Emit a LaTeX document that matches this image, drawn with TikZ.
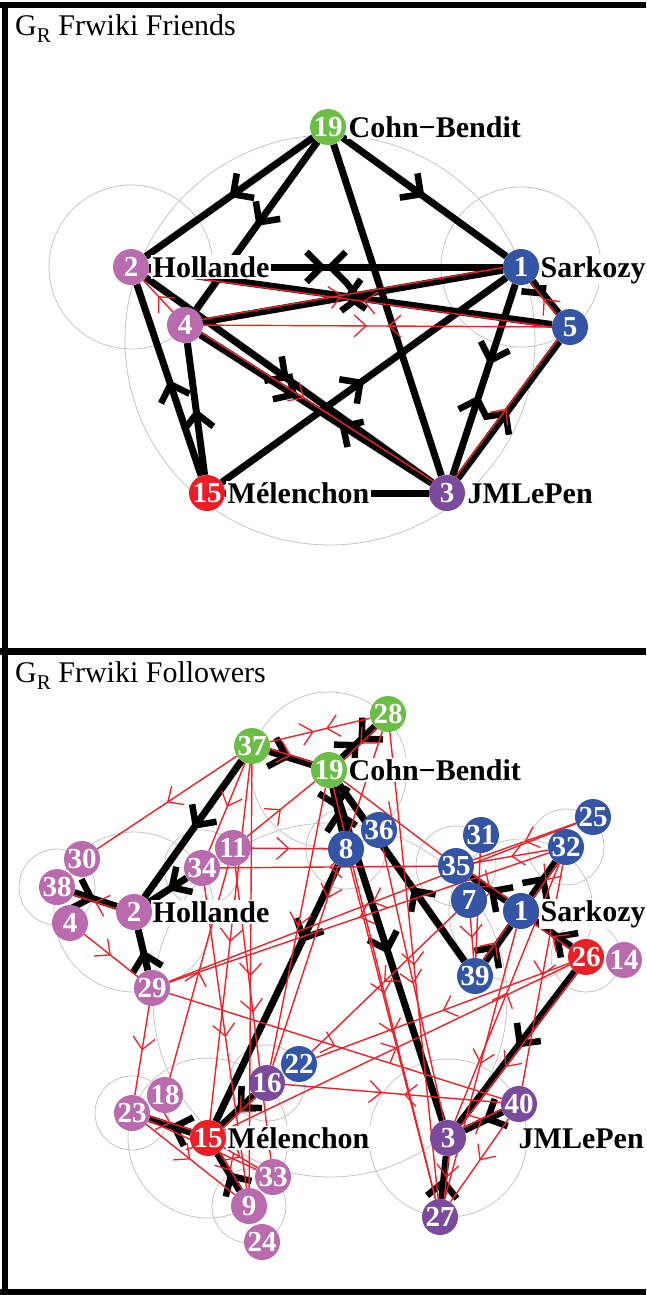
\documentclass[tikz,border=0pt]{standalone}
\usepackage{fontspec}
\setmainfont{Liberation Serif}
\usetikzlibrary{arrows.meta,decorations.markings,calc}
\definecolor{pinkc}{HTML}{B96BAE}
\definecolor{bluec}{HTML}{3455A5}
\definecolor{greenc}{HTML}{6BBE45}
\definecolor{rednode}{HTML}{EC1F26}
\definecolor{purc}{HTML}{7B4A9D}
\definecolor{rededge}{HTML}{EE2129}
\definecolor{loopgray}{HTML}{C4C4C4}
\pgfdeclarelayer{loops}
\pgfdeclarelayer{edges}
\pgfsetlayers{loops,edges,main}
\tikzset{
  BA/.tip={Straight Barb[length=15pt,width=30pt,line width=6.5pt]},
  RA/.tip={Straight Barb[length=12pt,width=22pt,line width=1.3pt]},
  vx/.style={circle,minimum size=36pt,inner sep=0pt,text=white,font=\bfseries\fontsize{29}{29}\selectfont},
  vp/.style={vx,fill=pinkc},
  vb/.style={vx,fill=bluec},
  vg/.style={vx,fill=greenc},
  vr/.style={vx,fill=rednode},
  vu/.style={vx,fill=purc},
  lab/.style={anchor=base west,fill=white,inner sep=1.5pt,font=\bfseries\fontsize{30}{30}\selectfont},
  ttl/.style={anchor=base west,inner sep=0pt,font=\fontsize{30}{30}\selectfont},
  blk/.style={line width=7pt,draw=black},
  rde/.style={line width=1.4pt,draw=rededge},
  loopc/.style={draw=loopgray,line width=0.8pt},
  panelrule/.style={line width=6pt,draw=black},
  ab/.style={decoration={markings,mark=at position #1 with {\arrow{BA}}},postaction={decorate}},
  ab/.default=0.5,
  abx/.style={decoration={markings,mark=at position 0.5 with {\arrow{BA}},mark=at position 0.5 with {\arrowreversed{BA}}},postaction={decorate}},
  abs/.style 2 args={decoration={markings,mark=at position #1 with {\arrow{BA}},mark=at position #2 with {\arrowreversed{BA}}},postaction={decorate}},
  ra/.style={decoration={markings,mark=at position #1 with {\arrow{RA}}},postaction={decorate}},
  ra/.default=0.5,
  ras/.style 2 args={decoration={markings,mark=at position #1 with {\arrow{RA}},mark=at position #2 with {\arrowreversed{RA}}},postaction={decorate}},
}
\begin{document}
\begin{tikzpicture}[x=1pt,y=-1pt]
\useasboundingbox (0,0) rectangle (646,1295);
% panel rules
\draw[panelrule] (0,5) -- (646,5);
\draw[panelrule] (5,2) -- (5,1295);
\draw[panelrule,line width=7pt] (0,651) -- (646,651);
\draw[panelrule] (0,1292) -- (646,1292);
% titles
\node[ttl] (ttop) at (15,36) {G\raisebox{-7pt}{\fontsize{21}{21}\selectfont R} Frwiki Friends};
\node[ttl] (tbot) at (15,682) {G\raisebox{-7pt}{\fontsize{21}{21}\selectfont R} Frwiki Followers};

% ---------------- TOP PANEL ----------------
\node[lab] (lt19) at (347,137) {Cohn−Bendit};
\node[lab] (lt2) at (151,277) {Hollande};
\node[lab] (lt1) at (539,277) {Sarkozy};
\node[lab] (lt15) at (226,503) {Mélenchon};
\node[lab] (lt3) at (466,503) {JMLePen};
\node[vg] (t19) at (328,127) {19};
\node[vp] (t2) at (131,267) {2};
\node[vb] (t1) at (521,267) {1};
\node[vp] (t4) at (185,325) {4};
\node[vb] (t5) at (570,327) {5};
\node[vr] (t15) at (207,493) {15};
\node[vu] (t3) at (447,493) {3};

% ---------------- BOTTOM PANEL ----------------
\node[lab] (lb19) at (347,780) {Cohn−Bendit};
\node[lab] (lb1) at (539,921) {Sarkozy};
\node[lab] (lb2) at (151,922) {Hollande};
\node[lab] (lb15) at (226,1148) {Mélenchon};
\node[lab] (lb3) at (517,1148) {JMLePen};

\node[vg] (b37) at (252,746) {37};
\node[vg] (b28) at (388,714) {28};
\node[vg] (b19) at (329,770) {19};
\node[vb] (b36) at (379,830) {36};
\node[vb] (b8) at (346,849) {8};
\node[vb] (b31) at (481,835) {31};
\node[vb] (b35) at (456,866) {35};
\node[vb] (b7) at (469,900) {7};
\node[vb] (b1) at (521,911) {1};
\node[vb] (b25) at (593,817) {25};
\node[vb] (b32) at (566,847) {32};
\node[vp] (b14) at (624,960) {14};
\node[vr] (b26) at (586,957) {26};
\node[vb] (b39) at (475,976) {39};
\node[vu] (b40) at (519,1104) {40};
\node[vu] (b3) at (448,1138) {3};
\node[vu] (b27) at (440,1217) {27};
\node[vp] (b30) at (82,859) {30};
\node[vp] (b4) at (70,923) {4};
\node[vp] (b38) at (57,887) {38};
\node[vp] (b2) at (134,912) {2};
\node[vp] (b11) at (233,848) {11};
\node[vp] (b34) at (202,868) {34};
\node[vp] (b29) at (152,988) {29};
\node[vp] (b18) at (165,1095) {18};
\node[vp] (b23) at (132,1113) {23};
\node[vr] (b15) at (208,1138) {15};
\node[vb] (b22) at (299,1064) {22};
\node[vu] (b16) at (267,1083) {16};
\node[vp] (b33) at (273,1177) {33};
\node[vp] (b24) at (262,1242) {24};
\node[vp] (b9) at (249,1206) {9};

% ---------------- LOOPS ----------------
\begin{pgfonlayer}{loops}
\draw[loopc] (t2) circle[radius=82];
\draw[loopc] (t1) circle[radius=80];
\draw[loopc] (330,340) circle[radius=205];
\draw[loopc] (b38) circle[radius=38];
\draw[loopc] (b2) circle[radius=80];
\draw[loopc] (b34) circle[radius=38];
\draw[loopc] (b19) circle[radius=78];
\draw[loopc] (b8) circle[radius=40];
\draw[loopc] (b35) circle[radius=40];
\draw[loopc] (b32) circle[radius=38];
\draw[loopc] (b1) circle[radius=72];
\draw[loopc] (b26) circle[radius=35];
\draw[loopc] (b3) circle[radius=79];
\draw[loopc] (b15) circle[radius=80];
\draw[loopc] (b23) circle[radius=37];
\draw[loopc] (b9) circle[radius=37];
\draw[loopc] (b16) circle[radius=38];
\draw[loopc] (330,1000) circle[radius=177];
\end{pgfonlayer}

% ---------------- EDGES ----------------
\begin{pgfonlayer}{edges}
% top black
\draw[blk,ab] (t19) -- (t2);
\draw[blk,ab] (t19) -- (t4);
\draw[blk,ab] (t19) -- (t1);
\draw[blk] (t19) -- (t3);
\draw[blk,abx] (t2) -- (t1);
\draw[blk,ab=0.53] (t1) -- (t4);
\draw[blk,ab=0.53] (t2) -- (t5);
\draw[blk,ab] (t1) -- (t5);
\draw[blk,ab] (t3) -- (t5);
\draw[blk,abs={0.42}{0.6}] (t4) -- (t3);
\draw[blk,ab] (t2) -- (t3);
\draw[blk,ab] (t15) -- (t1);
\draw[blk,ab] (t15) -- (t2);
\draw[blk,ab] (t15) -- (t4);
\draw[blk,abs={0.42}{0.58}] (t1) -- (t3);
\draw[blk] (t15) -- (t3);
% top red
\draw[rde,ra] (t4) -- (t2);
\draw[rde,ras={0.47}{0.53}] (t4) -- (t5);
\draw[rde,ra=0.47] ($(t4)!2.5pt!90:(t1)$) -- ($(t1)!2.5pt!-90:(t4)$);
\draw[rde,ra=0.47] ($(t5)!2.5pt!90:(t2)$) -- ($(t2)!2.5pt!-90:(t5)$);
\draw[rde,ra] ($(t5)!2.5pt!90:(t1)$) -- ($(t1)!2.5pt!-90:(t5)$);
\draw[rde,ra] ($(t3)!2.5pt!90:(t5)$) -- ($(t5)!2.5pt!-90:(t3)$);
\draw[rde,ra=0.45] ($(t4)!2.5pt!90:(t3)$) -- ($(t3)!2.5pt!-90:(t4)$);

% bottom black
\draw[blk,ab] (b37) -- (b19);
\draw[blk,ab] (b37) -- (b2);
\draw[blk,ab] (b34) -- (b2);
\draw[blk,ab] (b38) -- (b2);
\draw[blk,ab] (b29) -- (b2);
\draw[blk,ab=0.3] (b8) -- (b15);
\draw[blk,abx] (b19) -- (b8);
\draw[blk,ab] (b19) -- (b3);
\draw[blk,ab=0.42] (b39) -- (b19);
\draw[blk,ab] (b1) -- (b35);
\draw[blk,ab] (b26) -- (b1);
\draw[blk,ab] (b39) -- (b1);
\draw[blk,ab=0.6] (b1) -- (b32);
\draw[blk,ab] (b26) -- (b3);
\draw[blk,ab] (b40) -- (b3);
\draw[blk,ab] (b27) -- (b3);
\draw[blk,ab] (b15) -- (b23);
\draw[blk,ab] (b16) -- (b15);
\draw[blk,ab] (b9) -- (b15);
\draw[blk,abx] (b19) -- (b28);
% bottom red overlays
\draw[rde,ra] ($(b37)!2.5pt!90:(b19)$) -- ($(b19)!2.5pt!-90:(b37)$);
\draw[rde,ra] ($(b2)!2.5pt!90:(b38)$) -- ($(b38)!2.5pt!-90:(b2)$);
\draw[rde,ra] ($(b35)!2.5pt!90:(b1)$) -- ($(b1)!2.5pt!-90:(b35)$);
\draw[rde,ra] ($(b26)!2.5pt!90:(b1)$) -- ($(b1)!2.5pt!-90:(b26)$);
\draw[rde,ra] ($(b39)!2.5pt!90:(b1)$) -- ($(b1)!2.5pt!-90:(b39)$);
\draw[rde,ra] ($(b32)!2.5pt!90:(b1)$) -- ($(b1)!2.5pt!-90:(b32)$);
\draw[rde,ra=0.6] ($(b26)!2.5pt!90:(b3)$) -- ($(b3)!2.5pt!-90:(b26)$);
\draw[rde,ra] ($(b3)!2.5pt!90:(b40)$) -- ($(b40)!2.5pt!-90:(b3)$);
\draw[rde,ra] ($(b3)!2.5pt!90:(b27)$) -- ($(b27)!2.5pt!-90:(b3)$);
\draw[rde,ra] ($(b23)!2.5pt!90:(b15)$) -- ($(b15)!2.5pt!-90:(b23)$);
\draw[rde,ra] ($(b16)!2.5pt!90:(b15)$) -- ($(b15)!2.5pt!-90:(b16)$);
\draw[rde,ra] ($(b15)!2.5pt!90:(b9)$) -- ($(b9)!2.5pt!-90:(b15)$);
\draw[rde,ra] ($(b28)!2.5pt!90:(b19)$) -- ($(b19)!2.5pt!-90:(b28)$);
% bottom red
\draw[rde,ras={0.44}{0.56}] (b37) -- (b28);
\draw[rde,ra] (b37) -- (b30);
\draw[rde,ra] (b37) -- (b34);
\draw[rde,ra] (b37) -- (b15);
\draw[rde,ra] (b37) -- (b9);
\draw[rde,ra] (b11) -- (b19);
\draw[rde,ra] (b11) -- (b8);
\draw[rde,ra] (b35) -- (b34);
\draw[rde,ra] (b32) -- (b29);
\draw[rde,ra] (b25) -- (b29);
\draw[rde,ra] (b29) -- (b40);
\draw[rde,ra] (b29) -- (b23);
\draw[rde,ras={0.45}{0.55}] (b16) -- (b40);
\draw[rde,ra] (b7) -- (b22);
\draw[rde,ra] (b15) -- (b26);
\draw[rde,ra] (b15) -- (b33);
\draw[rde,ra] (b23) -- (b9);
\draw[rde,ra] (b23) -- (b33);
\draw[rde,ra] (b28) -- (b16);
\draw[rde,ra] (b19) -- (b16);
\draw[rde,ra] (b19) -- (b27);
\draw[rde,ra] (b28) -- (b27);
\draw[rde,ra] (b1) -- (b27);
\draw[rde,ra] (b40) -- (b27);
\draw[rde,ra] (b19) -- (b35);
\draw[rde,ra] (b31) -- (b39);
\draw[rde,ra] (b7) -- (b39);
\draw[rde,ra] (b32) -- (b40);
\draw[rde,ra] (b26) -- (b22);
\draw[rde,ra] (b25) -- (b35);
\draw[rde,ra] (b32) -- (b35);
\draw[rde,ra] (b4) -- (b29);
\draw[rde,ra] (b18) -- (b11);
\draw[rde,ra] (b34) -- (b9);
\draw[rde,ra] (b11) -- (b33);
\draw[rde,ra] (b8) -- (b27);
\draw[rde,ra] (b3) -- (b32);
\draw[rde,ra] (b36) -- (b3);
\end{pgfonlayer}
\end{tikzpicture}
\end{document}
